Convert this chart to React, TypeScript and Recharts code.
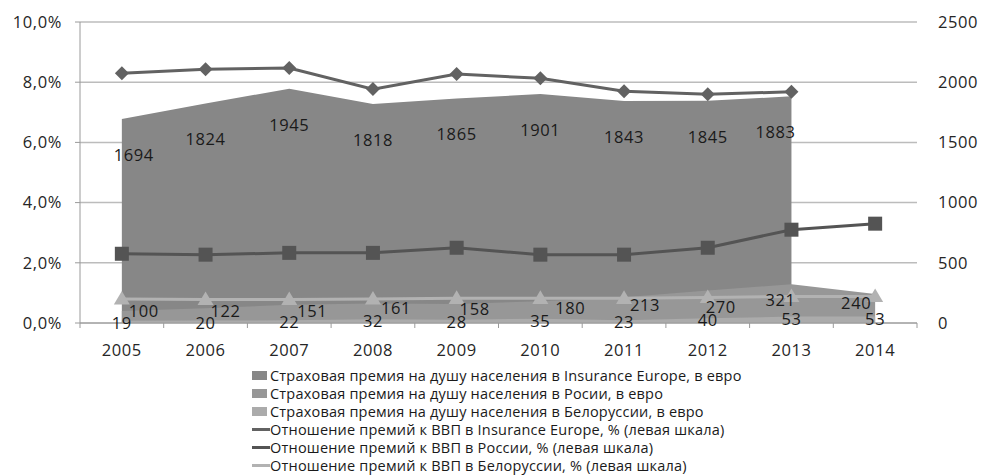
import React from "react";
import {
  ComposedChart,
  Area,
  Line,
  XAxis,
  YAxis,
  CartesianGrid,
  LabelList,
} from "recharts";

const years = ["2005", "2006", "2007", "2008", "2009", "2010", "2011", "2012", "2013", "2014"];

// премия на душу населения, евро (правая шкала)
const europePremium = [1694, 1824, 1945, 1818, 1865, 1901, 1843, 1845, 1883, null];
const russiaPremium = [100, 122, 151, 161, 158, 180, 213, 270, 321, 240];
const belarusPremium = [19, 20, 22, 32, 28, 35, 23, 40, 53, 53];

// отношение премий к ВВП, % (левая шкала)
const europeShare = [8.3, 8.43, 8.47, 7.77, 8.27, 8.13, 7.7, 7.6, 7.68, null];
const russiaShare = [2.3, 2.27, 2.33, 2.33, 2.5, 2.27, 2.27, 2.5, 3.1, 3.3];
const belarusShare = [0.8, 0.78, 0.78, 0.8, 0.82, 0.82, 0.82, 0.85, 0.88, 0.88];

const leftTicks = [0, 2, 4, 6, 8, 10];
const rightTicks = [0, 500, 1000, 1500, 2000, 2500];

const data = years.map((year, i) => ({
  year,
  europePremium: europePremium[i],
  russiaPremium: russiaPremium[i],
  belarusPremium: belarusPremium[i],
  europeShare: europeShare[i],
  russiaShare: russiaShare[i],
  belarusShare: belarusShare[i],
}));

const FONT = "'Open Sans', sans-serif";
const TEXT = "#262626";
const HALF_BAND = 41.85;
const LABEL_STYLE = { fontSize: 16.5, letterSpacing: 0.6, fontFamily: FONT };

const C = {
  europeArea: "#878787",
  russiaArea: "#979797",
  belarusArea: "#ababab",
  europeLine: "#626262",
  russiaLine: "#545454",
  belarusLine: "#b2b2b2",
};

// label nudges for the Russia area, copied by eye from the original
const russiaLabelShift = [
  [22, 0], [20, 3], [23, 6], [23, 4], [18, 5],
  [30, 7], [21, 8], [13, 17], [-11, 16], [-19, 9],
];

const legendItems = [
  { kind: "area", color: C.europeArea, name: "Страховая премия на душу населения в Insurance Europe, в евро" },
  { kind: "area", color: C.russiaArea, name: "Страховая премия на душу населения в Росии, в евро" },
  { kind: "area", color: C.belarusArea, name: "Страховая премия на душу населения в Белоруссии, в евро" },
  { kind: "line", color: C.europeLine, name: "Отношение премий к ВВП в Insurance Europe, % (левая шкала)" },
  { kind: "line", color: C.russiaLine, name: "Отношение премий к ВВП в России, % (левая шкала)" },
  { kind: "line", color: C.belarusLine, name: "Отношение премий к ВВП в Белоруссии, % (левая шкала)" },
];

const YearTick = (props: any) => {
  const { x, y, payload, index } = props;
  return (
    <g>
      <line x1={x - HALF_BAND} x2={x - HALF_BAND} y1={y} y2={y + 5} stroke="#9a9a9a" />
      {index === years.length - 1 && (
        <line x1={x + HALF_BAND} x2={x + HALF_BAND} y1={y} y2={y + 5} stroke="#9a9a9a" />
      )}
      <text x={x} y={y + 33} textAnchor="middle" {...LABEL_STYLE} fill={TEXT}>
        {payload.value}
      </text>
    </g>
  );
};

const Diamond = (props: any) => {
  const { cx, cy } = props;
  if (cx == null || cy == null) return null;
  const r = 7;
  return (
    <path d={`M${cx},${cy - r}L${cx + r},${cy}L${cx},${cy + r}L${cx - r},${cy}Z`} fill={C.europeLine} />
  );
};

const Square = (props: any) => {
  const { cx, cy } = props;
  if (cx == null || cy == null) return null;
  return <rect x={cx - 7} y={cy - 7} width={14} height={14} fill={C.russiaLine} />;
};

const Triangle = (props: any) => {
  const { cx, cy } = props;
  if (cx == null || cy == null) return null;
  const r = 8;
  return (
    <path d={`M${cx},${cy - r}L${cx + r},${cy + r * 0.7}L${cx - r},${cy + r * 0.7}Z`} fill={C.belarusLine} />
  );
};

const europeLabel = (props: any) => {
  const { x, y, value, index } = props;
  if (value == null) return null;
  const dx = index === 0 ? 12 : index === 8 ? -16 : 0;
  return (
    <text x={x + dx} y={y + 42} textAnchor="middle" {...LABEL_STYLE} fill="#1a1a1a">
      {value}
    </text>
  );
};

const russiaLabel = (props: any) => {
  const { x, y, value, index } = props;
  const [dx, dy] = russiaLabelShift[index] || [0, 0];
  return (
    <text x={x + dx} y={y + dy + 6} textAnchor="middle" {...LABEL_STYLE} fill="#1a1a1a">
      {value}
    </text>
  );
};

const belarusLabel = (props: any) => {
  const { x, y, value } = props;
  return (
    <text x={x} y={y + 8} textAnchor="middle" {...LABEL_STYLE} fill="#1a1a1a">
      {value}
    </text>
  );
};

export default function App() {
  return (
    <div style={{ position: "absolute", left: 0, top: 0, width: 982, height: 476, background: "#fff" }}>
      <ComposedChart width={982} height={360} data={data} margin={{ top: 22, right: 0, bottom: 0, left: 0 }}>
        <CartesianGrid yAxisId="left" vertical={false} stroke="#bcbcbc" strokeWidth={1.5} />
        <XAxis
          dataKey="year"
          height={37}
          padding={{ left: HALF_BAND, right: HALF_BAND }}
          tickSize={0}
          tickMargin={0}
          tickLine={false}
          axisLine={{ stroke: "#9a9a9a" }}
          tick={<YearTick />}
          interval={0}
        />
        <YAxis
          yAxisId="left"
          width={80}
          domain={[0, 10]}
          ticks={leftTicks}
          tickFormatter={(v: number) => v.toFixed(1).replace(".", ",") + "%"}
          axisLine={{ stroke: "#9a9a9a" }}
          tickLine={{ stroke: "#9a9a9a" }}
          tickSize={5}
          tickMargin={13}
          tick={{ ...LABEL_STYLE, fill: TEXT }}
        />
        <YAxis
          yAxisId="right"
          orientation="right"
          width={65}
          domain={[0, 2500]}
          ticks={rightTicks}
          axisLine={false}
          tickLine={false}
          tickMargin={15}
          tick={{ ...LABEL_STYLE, fill: TEXT, textAnchor: "start" }}
        />
        <Area
          yAxisId="right"
          type="linear"
          dataKey="europePremium"
          fill={C.europeArea}
          fillOpacity={1}
          stroke="none"
          isAnimationActive={false}
        >
          <LabelList dataKey="europePremium" content={europeLabel} />
        </Area>
        <Area
          yAxisId="right"
          type="linear"
          dataKey="russiaPremium"
          fill={C.russiaArea}
          fillOpacity={1}
          stroke="none"
          isAnimationActive={false}
        >
          <LabelList dataKey="russiaPremium" content={russiaLabel} />
        </Area>
        <Area
          yAxisId="right"
          type="linear"
          dataKey="belarusPremium"
          fill={C.belarusArea}
          fillOpacity={1}
          stroke="none"
          isAnimationActive={false}
        >
          <LabelList dataKey="belarusPremium" content={belarusLabel} />
        </Area>
        <Line
          yAxisId="left"
          type="linear"
          dataKey="belarusShare"
          stroke={C.belarusLine}
          strokeWidth={3}
          dot={<Triangle />}
          isAnimationActive={false}
        />
        <Line
          yAxisId="left"
          type="linear"
          dataKey="europeShare"
          stroke={C.europeLine}
          strokeWidth={3}
          dot={<Diamond />}
          isAnimationActive={false}
        />
        <Line
          yAxisId="left"
          type="linear"
          dataKey="russiaShare"
          stroke={C.russiaLine}
          strokeWidth={3}
          dot={<Square />}
          isAnimationActive={false}
        />
      </ComposedChart>
      <div style={{ position: "absolute", left: 252, top: 366, fontFamily: FONT, fontSize: 14.5, letterSpacing: 0.2, color: "#1a1a1a" }}>
        {legendItems.map((item) => (
          <div key={item.name} style={{ display: "flex", alignItems: "center", height: 18, whiteSpace: "nowrap" }}>
            {item.kind === "area" ? (
              <span style={{ display: "inline-block", width: 15, height: 9, background: item.color, marginRight: 3 }} />
            ) : (
              <span style={{ display: "inline-block", width: 18, height: 3, background: item.color }} />
            )}
            <span>{item.name}</span>
          </div>
        ))}
      </div>
    </div>
  );
}
